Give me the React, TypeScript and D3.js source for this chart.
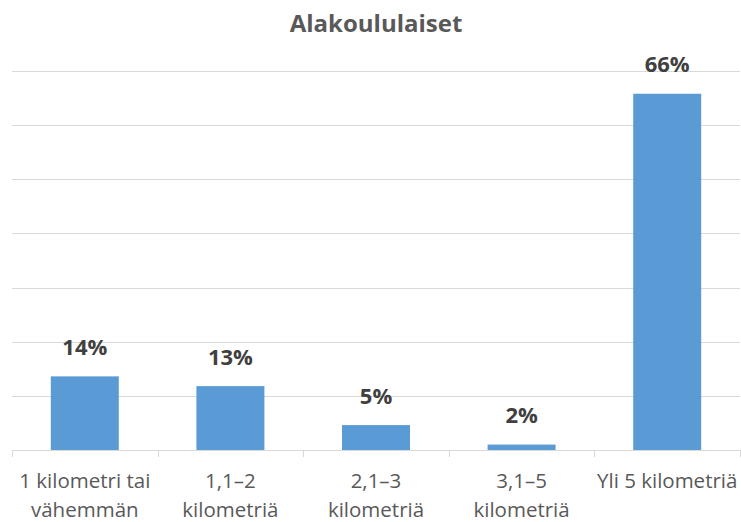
import React from "react";
import * as d3 from "d3";

const categories: string[][] = [
  ["1 kilometri tai", "vähemmän"],
  ["1,1–2", "kilometriä"],
  ["2,1–3", "kilometriä"],
  ["3,1–5", "kilometriä"],
  ["Yli 5 kilometriä"],
];
const values: number[] = [13.6, 11.8, 4.6, 1.0, 65.8];
const valueLabels: string[] = ["14%", "13%", "5%", "2%", "66%"];
const gridTicks: number[] = [0, 10, 20, 30, 40, 50, 60, 70];
const title = "Alakoululaiset";

const W = 741;
const H = 522;
const left = 12;
const right = 740;
const top = 71;
const bottom = 450;
const FONT = "'Open Sans', 'Noto Sans', sans-serif";

export default function App() {
  const x = d3
    .scaleBand<number>()
    .domain(categories.map((_, i) => i))
    .range([left, right])
    .paddingInner(0.533)
    .paddingOuter(0.2665);
  const y = d3.scaleLinear().domain([0, 70]).range([bottom, top]);
  const step = (right - left) / categories.length;
  const boundaries = d3.range(categories.length + 1).map((i) => left + i * step);

  return (
    <svg
      width={W}
      height={H}
      style={{ position: "absolute", left: 0, top: 0, background: "#fff" }}
    >
      <text
        x={376}
        y={32}
        textAnchor="middle"
        fontFamily={FONT}
        fontWeight={700}
        fontSize={24}
        fill="#595959"
      >
        {title}
      </text>
      {gridTicks.slice(1).map((t) => (
        <line
          key={t}
          x1={left}
          x2={right}
          y1={Math.round(y(t)) + 0.5}
          y2={Math.round(y(t)) + 0.5}
          stroke="#d9d9d9"
          strokeWidth={1}
        />
      ))}
      {values.map((v, i) => (
        <rect
          key={i}
          x={x(i)}
          y={y(v)}
          width={x.bandwidth()}
          height={y(0) - y(v)}
          fill="#5b9bd5"
        />
      ))}
      <line x1={left} x2={right} y1={bottom + 0.5} y2={bottom + 0.5} stroke="#d9d9d9" />
      {boundaries.map((b, i) => (
        <line
          key={i}
          x1={Math.round(b) + 0.5}
          x2={Math.round(b) + 0.5}
          y1={bottom}
          y2={bottom + 7}
          stroke="#d9d9d9"
        />
      ))}
      {values.map((v, i) => (
        <text
          key={i}
          x={(x(i) as number) + x.bandwidth() / 2}
          y={y(v) - 21.5}
          textAnchor="middle"
          fontFamily={FONT}
          fontWeight={700}
          fontSize={22}
          fill="#404040"
        >
          {valueLabels[i]}
        </text>
      ))}
      {categories.map((lines, i) => (
        <text
          key={i}
          x={(x(i) as number) + x.bandwidth() / 2}
          textAnchor="middle"
          fontFamily={FONT}
          fontSize={20.5}
          fill="#595959"
        >
          {lines.map((l, j) => (
            <tspan key={j} x={(x(i) as number) + x.bandwidth() / 2} y={488 + j * 29}>
              {l}
            </tspan>
          ))}
        </text>
      ))}
    </svg>
  );
}
